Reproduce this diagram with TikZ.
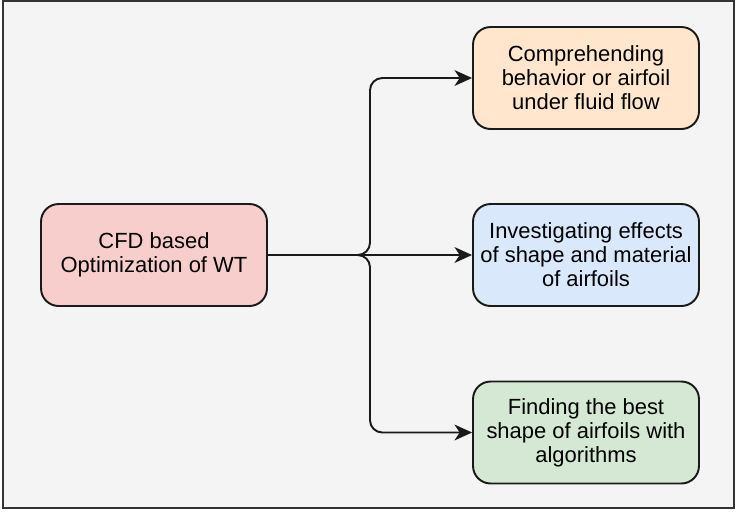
\documentclass[tikz,border=0pt]{standalone}
\usepackage{fontspec}
\setmainfont{Liberation Sans}
\usetikzlibrary{arrows.meta, positioning}
\definecolor{bgfill}{HTML}{F4F4F4}
\definecolor{cfdfill}{HTML}{F8CECC}
\definecolor{orfill}{HTML}{FFE6CC}
\definecolor{blfill}{HTML}{DAE8FC}
\definecolor{grfill}{HTML}{D5E8D4}
\definecolor{edge}{HTML}{1A1A1A}

\begin{document}
\begin{tikzpicture}[x=0.02cm, y=-0.02cm,
  box/.style={draw=edge, line width=1.1pt, rounded corners=10pt, minimum width=4.52cm, minimum height=2.04cm, align=center, font=\fontsize{12.5}{13.6}\selectfont, inner sep=2pt},
  conn/.style={draw=edge, line width=1.1pt, rounded corners=7pt, -{Stealth[length=10pt, width=9pt, inset=3pt]}}]
\useasboundingbox (0,0) rectangle (738,512);
\fill[white] (0,0) rectangle (738,512);
\draw[fill=bgfill, draw=black!80, line width=1.1pt] (3,1) rectangle (734,508);

\node[box, fill=cfdfill] (cfd) at (154,255) {CFD based\\Optimization of WT};
\node[box, fill=orfill] (comp) at (586,78) {Comprehending\\behavior or airfoil\\under fluid flow};
\node[box, fill=blfill] (inv) at (586,255) {Investigating effects\\of shape and material\\of airfoils};
\node[box, fill=grfill] (find) at (586,432.5) {Finding the best\\shape of airfoils with\\algorithms};

\coordinate (junc) at (370,255);
\draw[conn] (cfd.east) -- (junc) |- (comp.west);
\draw[conn] (cfd.east) -- (inv.west);
\draw[conn] (cfd.east) -- (junc) |- (find.west);
\end{tikzpicture}
\end{document}
